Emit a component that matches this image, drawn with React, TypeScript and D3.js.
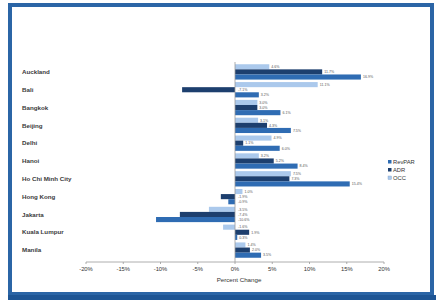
import React from 'react'
import * as d3 from 'd3'

// values (percent change)
const cities = ['Auckland', 'Bali', 'Bangkok', 'Beijing', 'Delhi', 'Hanoi', 'Ho Chi Minh City', 'Hong Kong', 'Jakarta', 'Kuala Lumpur', 'Manila']
const occ = [4.6, 11.1, 3.0, 3.1, 4.9, 3.2, 7.5, 1.0, -3.5, -1.6, 1.4]
const adr = [11.7, -7.1, 3.0, 4.3, 1.1, 5.2, 7.3, -1.9, -7.4, 1.9, 2.0]
const revpar = [16.9, 3.2, 6.1, 7.5, 6.0, 8.4, 15.4, -0.9, -10.6, 0.3, 3.5]
const ticks = [-20, -15, -10, -5, 0, 5, 10, 15, 20]

// top to bottom within a city
const series = [
  { name: 'OCC', values: occ, color: '#abc9ec' },
  { name: 'ADR', values: adr, color: '#1d3f6e' },
  { name: 'RevPAR', values: revpar, color: '#2f6cb3' },
]
const legendItems = ['RevPAR', 'ADR', 'OCC']
const legendColors: Record<string, string> = { RevPAR: '#2f6cb3', ADR: '#1d3f6e', OCC: '#abc9ec' }

const W = 436
const H = 300
const font = '"Liberation Sans", Arial, sans-serif'

export default function App() {
  const x = d3.scaleLinear().domain([-20, 20]).range([86, 384])
  const y = d3.scaleBand().domain(cities).range([63, 259]).paddingInner(0.14).paddingOuter(0.07)
  const inner = d3.scaleBand().domain(series.map(s => s.name)).range([0, y.bandwidth()])
  const fmt = (v: number) => v.toFixed(1) + '%'
  const axisY = 262

  return (
    <svg width={W} height={H} style={{ position: 'absolute', left: 0, top: 0 }} fontFamily={font}>
      <rect x={0} y={0} width={W} height={H} fill="#ffffff" />
      <rect x={10} y={5} width={422} height={289} fill="#ffffff" stroke="#2b65a6" strokeWidth={4} />
      <rect x={8} y={295} width={428} height={5} fill="#1e5594" />

      {/* category labels */}
      {cities.map(c => (
        <text key={c} x={22} y={(y(c) ?? 0) + y.bandwidth() / 2} dy="0.35em" fontSize={6.2} fontWeight="bold" fill="#3a3a3a">
          {c}
        </text>
      ))}

      {/* bars */}
      {series.map(s => (
        <g key={s.name}>
          {s.values.map((v, i) => {
            const yy = (y(cities[i]) ?? 0) + (inner(s.name) ?? 0)
            const x0 = x(Math.min(0, v))
            const w = Math.abs(x(v) - x(0))
            const lx = v >= 0 ? x(v) + 2 : x(0) + 3
            return (
              <g key={i}>
                <rect x={x0} y={yy} width={w} height={inner.bandwidth()} fill={s.color} />
                <text x={lx} y={yy + inner.bandwidth() / 2} dy="0.35em" fontSize={3.6} fill="#555">
                  {fmt(v)}
                </text>
              </g>
            )
          })}
        </g>
      ))}

      {/* zero line */}
      <line x1={x(0)} x2={x(0)} y1={62} y2={axisY} stroke="#999" strokeWidth={0.8} />

      {/* x axis */}
      <line x1={x(-20)} x2={x(20)} y1={axisY} y2={axisY} stroke="#999" strokeWidth={0.8} />
      {ticks.map(t => (
        <g key={t}>
          <line x1={x(t)} x2={x(t)} y1={axisY} y2={axisY + 2} stroke="#999" strokeWidth={0.8} />
          <text x={x(t)} y={axisY + 6.5} dy="0.35em" textAnchor="middle" fontSize={5.8} fill="#333">
            {t + '%'}
          </text>
        </g>
      ))}
      <text x={x(0) + 4} y={280} dy="0.35em" textAnchor="middle" fontSize={6.2} fill="#333">
        Percent Change
      </text>

      {/* legend */}
      {legendItems.map((n, i) => (
        <g key={n} transform={`translate(388,${162 + i * 8})`}>
          <rect x={0} y={-2} width={3.5} height={3.5} fill={legendColors[n]} stroke={n === 'OCC' ? '#7f9fc8' : 'none'} strokeWidth={0.4} />
          <text x={5} y={0} dy="0.35em" fontSize={5.8} fill="#333">
            {n}
          </text>
        </g>
      ))}
    </svg>
  )
}
